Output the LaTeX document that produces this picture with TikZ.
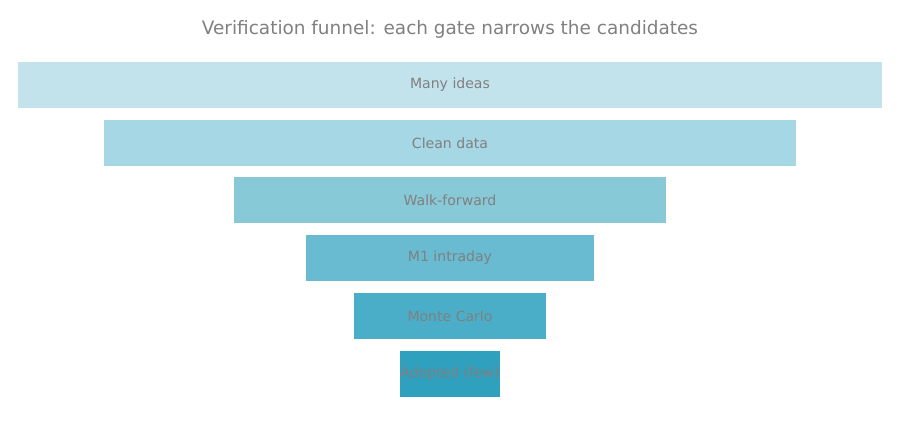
\documentclass[tikz,border=0pt]{standalone}
\usepackage{fontspec}
\setmainfont{DejaVu Sans}
\usetikzlibrary{positioning}
\definecolor{txtgray}{HTML}{808080}
\definecolor{c1}{HTML}{C2E3EC}
\definecolor{c2}{HTML}{A6D7E4}
\definecolor{c3}{HTML}{88C9D8}
\definecolor{c4}{HTML}{68BBD0}
\definecolor{c5}{HTML}{4BAEC8}
\definecolor{c6}{HTML}{2FA0BE}
\tikzset{
bar/.style={inner sep=0pt, minimum height=0.92cm, text=txtgray, font=\fontsize{8}{10}\selectfont},
}
\begin{document}
\begin{tikzpicture}
    \useasboundingbox (0,0) rectangle (18,-8.64);
    %title
    \node[text=txtgray, font=\fontsize{10.5}{12}\selectfont] (title) at (9,-0.58) {Verification funnel: each gate narrows the candidates};

    %funnel bars
    \node[bar, fill=c1, minimum width=17.28cm] (ideas)   at (9,-1.70) {Many ideas};
    \node[bar, fill=c2, minimum width=13.84cm] (clean)   at (9,-2.86) {Clean data};
    \node[bar, fill=c3, minimum width=8.64cm]  (walk)    at (9,-4.01) {Walk-forward};
    \node[bar, fill=c4, minimum width=5.76cm]  (intra)   at (9,-5.16) {M1 intraday};
    \node[bar, fill=c5, minimum width=3.84cm]  (monte)   at (9,-6.32) {Monte Carlo};
    \node[bar, fill=c6, minimum width=1.92cm]  (adopted) at (9,-7.48) {Adopted (few)};
\end{tikzpicture}
\end{document}
